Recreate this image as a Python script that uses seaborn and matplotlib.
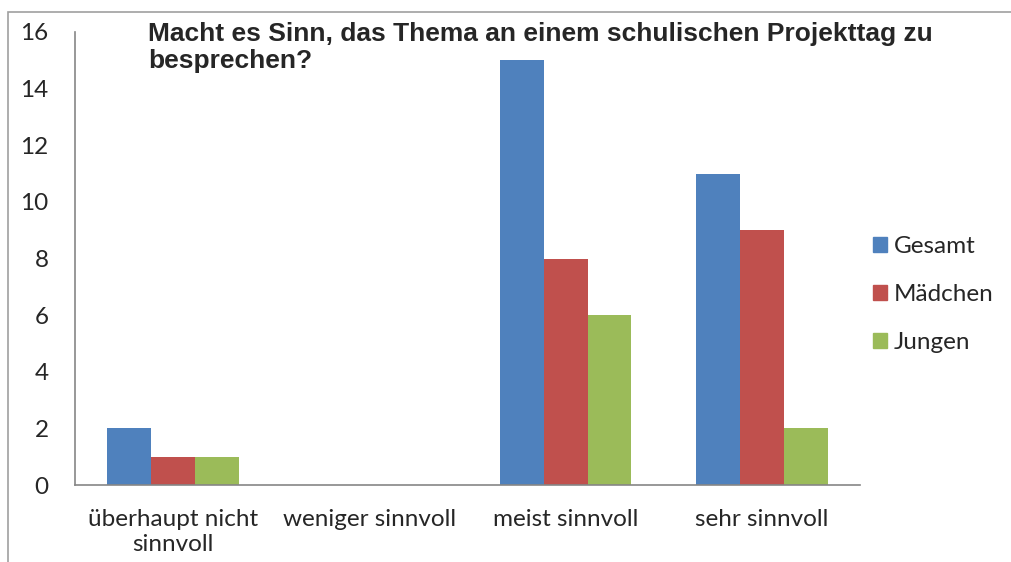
import matplotlib
matplotlib.use("Agg")
import matplotlib.pyplot as plt
import matplotlib.patches as mpatches
import pandas as pd
import seaborn as sns

kategorien = ["überhaupt nicht\nsinnvoll", "weniger sinnvoll", "meist sinnvoll", "sehr sinnvoll"]
gesamt = [2, 0, 15, 11]
maedchen = [1, 0, 8, 9]
jungen = [1, 0, 6, 2]
gruppen = ["Gesamt", "Mädchen", "Jungen"]
farben = ["#4F81BD", "#C0504D", "#9BBB59"]
y_ticks = [0, 2, 4, 6, 8, 10, 12, 14, 16]
titel = "Macht es Sinn, das Thema an einem schulischen Projekttag zu\nbesprechen?"

df = pd.DataFrame({
    "Kategorie": kategorien * 3,
    "Anzahl": gesamt + maedchen + jungen,
    "Gruppe": [g for g in gruppen for _ in kategorien],
})

sns.set_style("white")
plt.rcParams["font.family"] = ["Lato", "DejaVu Sans"]

fig = plt.figure(figsize=(10.11, 5.62), dpi=100)
ax = fig.add_axes([75 / 1011, 1 - 485 / 562, (860 - 75) / 1011, (485 - 32) / 562])

sns.barplot(data=df, x="Kategorie", y="Anzahl", hue="Gruppe", palette=farben,
            width=0.67, saturation=1, linewidth=0, ax=ax)

grau = "#868686"
fs = 17.5
ax.set_ylim(0, 16)
ax.set_xlim(-0.5, 3.5)
ax.set_yticks(y_ticks)
ax.set_yticklabels([str(t) for t in y_ticks], fontsize=fs)
ax.set_xticks(range(len(kategorien)))
ax.set_xticklabels(kategorien, fontsize=fs, linespacing=1.25)
ax.set_xticks([-0.5, 0.5, 1.5, 2.5, 3.5], minor=True)
ax.tick_params(axis="x", which="major", length=0, pad=17)
ax.tick_params(axis="x", which="minor", length=6, color=grau, width=1.2)
ax.tick_params(axis="y", length=7, color=grau, width=1.2, pad=12)
ax.set_xlabel("")
ax.set_ylabel("")
for side in ["top", "right"]:
    ax.spines[side].set_visible(False)
for side in ["left", "bottom"]:
    ax.spines[side].set_color(grau)
    ax.spines[side].set_linewidth(1.2)

ax.legend_.remove()
handles = [mpatches.Patch(color=c, label=g) for g, c in zip(gruppen, farben)]
fig.legend(handles=handles, loc="upper left", bbox_to_anchor=(851 / 1011, 1 - 214 / 562),
           frameon=False, fontsize=fs, handlelength=0.6, handleheight=0.6,
           handletextpad=0.25, labelspacing=1.12)

fig.text(148 / 1011, 1 - 22 / 562, titel, fontsize=19, fontweight="bold",
         family=["Liberation Sans", "DejaVu Sans"], va="top", ha="left", linespacing=1.15)

rahmen = mpatches.Rectangle((8 / 1011, -0.05), 1.1, 1 - 12 / 562 + 0.05,
                            transform=fig.transFigure, fill=False,
                            edgecolor="#A0A0A0", linewidth=1.2)
fig.patches.append(rahmen)

fig.savefig("out.png", dpi=100)
